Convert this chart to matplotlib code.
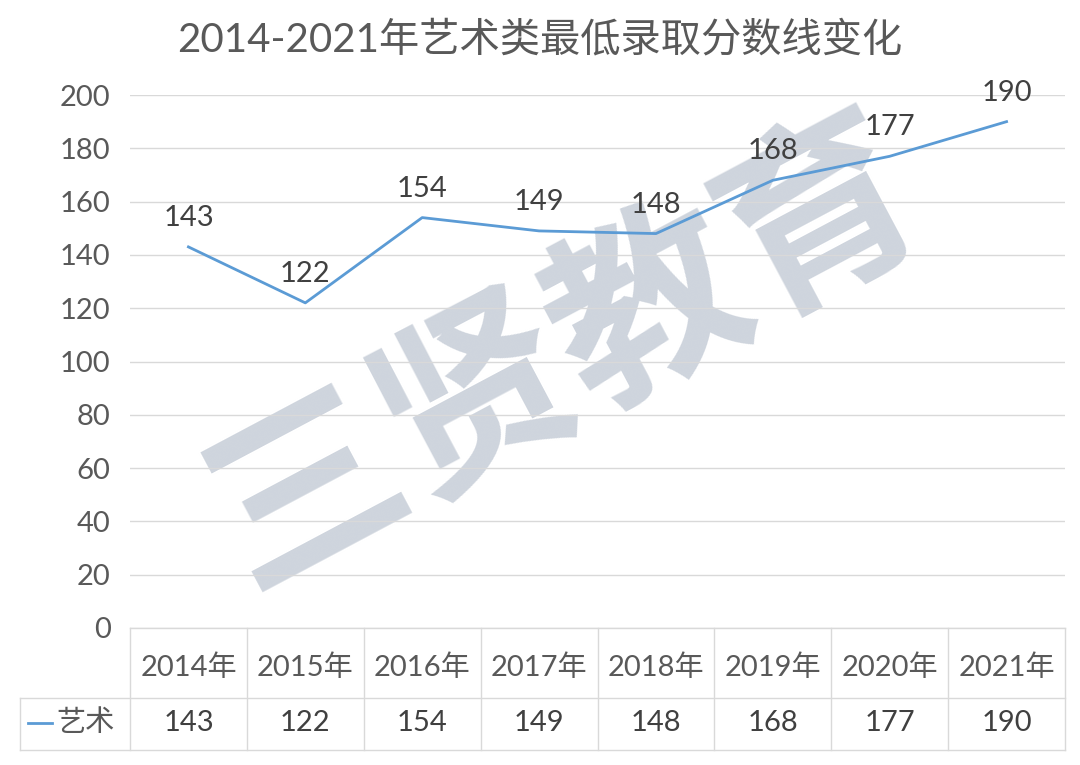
import matplotlib
matplotlib.use("Agg")
import matplotlib.pyplot as plt
from matplotlib.lines import Line2D

plt.rcParams['font.family'] = ['Lato', 'Noto Sans CJK SC', 'DejaVu Sans']

years = ["2014年", "2015年", "2016年", "2017年", "2018年", "2019年", "2020年", "2021年"]
values = [143, 122, 154, 149, 148, 168, 177, 190]
series_name = "艺术"
title = "2014-2021年艺术类最低录取分数线变化"

W, H = 1080, 765
fig = plt.figure(figsize=(10.8, 7.65), dpi=100)
L, R, T, B = 130, 1065, 95, 628
ax = fig.add_axes([L / W, 1 - B / H, (R - L) / W, (B - T) / H])
ax.patch.set_alpha(0)
x = list(range(len(years)))
ax.plot(x, values, color="#5B9BD5", lw=2, zorder=3)
for xi, v in zip(x, values):
    ax.text(xi, v + 6, str(v), ha="center", va="bottom", fontsize=21, color="#404040", zorder=4)
ax.set_xlim(-0.5, len(years) - 0.5)
ax.set_ylim(0, 200)
ax.set_yticks(range(0, 201, 20))
ax.tick_params(axis="y", labelsize=21, colors="#595959", length=0, pad=14)
ax.set_xticks([])
ax.grid(axis="y", color="#D9D9D9", lw=1)
ax.set_axisbelow(True)
for s in ax.spines.values():
    s.set_visible(False)

fig.text(0.5, 1 - 40 / H, title, ha="center", va="center", fontsize=29, color="#595959")

# watermark
fig.text(565 / W, 1 - 355 / H, "三贤教育", ha="center", va="center", fontsize=140,
         fontweight="bold", color="#AEB8C6", alpha=0.6, rotation=28, zorder=-1,
         family=['Noto Sans CJK SC'])

# data table
def fx(px): return px / W
def fy(py): return 1 - py / H
lc = "#D9D9D9"
cw = (R - L) / len(years)
fig.add_artist(Line2D([fx(L), fx(R)], [fy(B), fy(B)], color=lc, lw=1))
fig.add_artist(Line2D([fx(20), fx(R)], [fy(698), fy(698)], color=lc, lw=1))
fig.add_artist(Line2D([fx(20), fx(R)], [fy(750), fy(750)], color=lc, lw=1))
fig.add_artist(Line2D([fx(20), fx(20)], [fy(698), fy(750)], color=lc, lw=1))
for i in range(len(years) + 1):
    xx = L + i * cw
    fig.add_artist(Line2D([fx(xx), fx(xx)], [fy(B), fy(750)], color=lc, lw=1))
for i, (yr, v) in enumerate(zip(years, values)):
    cx = L + (i + 0.5) * cw
    fig.text(fx(cx), fy(668), yr, ha="center", va="center", fontsize=21, color="#595959")
    fig.text(fx(cx), fy(723), str(v), ha="center", va="center", fontsize=21, color="#404040")
fig.add_artist(Line2D([fx(28), fx(52)], [fy(723), fy(723)], color="#5B9BD5", lw=2))
fig.text(fx(56), fy(723), series_name, ha="left", va="center", fontsize=21, color="#595959")

fig.savefig("out.png", dpi=100, facecolor="white")
